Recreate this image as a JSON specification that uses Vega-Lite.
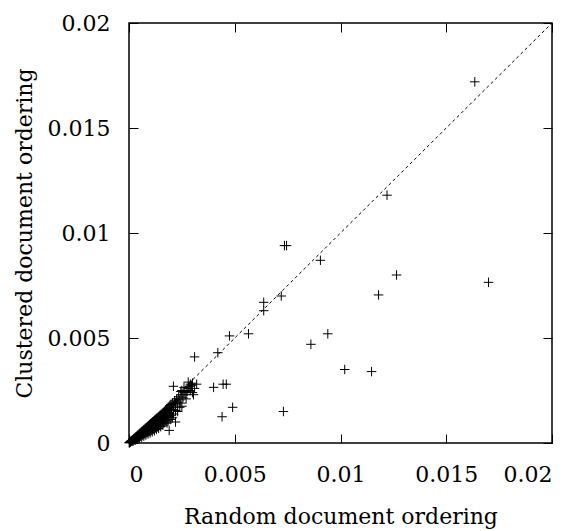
{
  "$schema": "https://vega.github.io/schema/vega-lite/v6.json",
  "width": 423,
  "height": 420,
  "autosize": "none",
  "padding": {"left": 129, "top": 23, "right": 28, "bottom": 88},
  "background": "white",
  "config": {
    "view": {"stroke": "black", "strokeWidth": 1.5},
    "font": "DejaVu Serif",
    "axis": {
      "domain": false,
      "grid": false,
      "ticks": true,
      "tickSize": -9,
      "tickWidth": 1,
      "tickColor": "black",
      "labelColor": "black",
      "titleFontWeight": "normal",
      "titleColor": "black"
    }
  },
  "datasets": {
    "diag": [{"random": 0, "clustered": 0}, {"random": 0.02, "clustered": 0.02}],
    "pts": [
      {"random": 0.00001, "clustered": 0.00001},
      {"random": 0.00002, "clustered": 0.00002},
      {"random": 0.00003, "clustered": 0.00002},
      {"random": 0.00005, "clustered": 0.00004},
      {"random": 0.00006, "clustered": 0.00005},
      {"random": 0.00008, "clustered": 0.00007},
      {"random": 0.0001, "clustered": 0.00008},
      {"random": 0.0001, "clustered": 0.00009},
      {"random": 0.00012, "clustered": 0.00011},
      {"random": 0.00015, "clustered": 0.00012},
      {"random": 0.00015, "clustered": 0.00009},
      {"random": 0.00017, "clustered": 0.00015},
      {"random": 0.0002, "clustered": 0.00016},
      {"random": 0.0002, "clustered": 0.00018},
      {"random": 0.0002, "clustered": 0.0001},
      {"random": 0.00022, "clustered": 0.0002},
      {"random": 0.00025, "clustered": 0.00019},
      {"random": 0.00025, "clustered": 0.00015},
      {"random": 0.00027, "clustered": 0.00024},
      {"random": 0.0003, "clustered": 0.00023},
      {"random": 0.0003, "clustered": 0.00026},
      {"random": 0.0003, "clustered": 0.0002},
      {"random": 0.0003, "clustered": 0.00014},
      {"random": 0.00032, "clustered": 0.00028},
      {"random": 0.00035, "clustered": 0.00027},
      {"random": 0.00035, "clustered": 0.00021},
      {"random": 0.00037, "clustered": 0.00033},
      {"random": 0.0004, "clustered": 0.0003},
      {"random": 0.0004, "clustered": 0.00035},
      {"random": 0.0004, "clustered": 0.00019},
      {"random": 0.00042, "clustered": 0.00037},
      {"random": 0.00045, "clustered": 0.00033},
      {"random": 0.00045, "clustered": 0.00026},
      {"random": 0.00047, "clustered": 0.00042},
      {"random": 0.0005, "clustered": 0.00036},
      {"random": 0.0005, "clustered": 0.00043},
      {"random": 0.0005, "clustered": 0.00033},
      {"random": 0.0005, "clustered": 0.00024},
      {"random": 0.00052, "clustered": 0.00047},
      {"random": 0.00055, "clustered": 0.0004},
      {"random": 0.00055, "clustered": 0.00032},
      {"random": 0.00057, "clustered": 0.0005},
      {"random": 0.0006, "clustered": 0.00043},
      {"random": 0.0006, "clustered": 0.00052},
      {"random": 0.0006, "clustered": 0.00028},
      {"random": 0.00062, "clustered": 0.00056},
      {"random": 0.00065, "clustered": 0.00047},
      {"random": 0.00065, "clustered": 0.00038},
      {"random": 0.00067, "clustered": 0.0006},
      {"random": 0.0007, "clustered": 0.0005},
      {"random": 0.0007, "clustered": 0.0006},
      {"random": 0.0007, "clustered": 0.00046},
      {"random": 0.0007, "clustered": 0.00033},
      {"random": 0.00072, "clustered": 0.00065},
      {"random": 0.00075, "clustered": 0.00054},
      {"random": 0.00075, "clustered": 0.00044},
      {"random": 0.00077, "clustered": 0.0007},
      {"random": 0.0008, "clustered": 0.00058},
      {"random": 0.0008, "clustered": 0.00068},
      {"random": 0.0008, "clustered": 0.00038},
      {"random": 0.00082, "clustered": 0.00074},
      {"random": 0.00085, "clustered": 0.0006},
      {"random": 0.00085, "clustered": 0.0005},
      {"random": 0.00087, "clustered": 0.00079},
      {"random": 0.0009, "clustered": 0.00064},
      {"random": 0.0009, "clustered": 0.00077},
      {"random": 0.0009, "clustered": 0.00058},
      {"random": 0.0009, "clustered": 0.00043},
      {"random": 0.00092, "clustered": 0.00083},
      {"random": 0.00095, "clustered": 0.00068},
      {"random": 0.00095, "clustered": 0.00055},
      {"random": 0.00097, "clustered": 0.00088},
      {"random": 0.001, "clustered": 0.00072},
      {"random": 0.001, "clustered": 0.00085},
      {"random": 0.001, "clustered": 0.00048},
      {"random": 0.00102, "clustered": 0.00092},
      {"random": 0.00105, "clustered": 0.00075},
      {"random": 0.00105, "clustered": 0.0006},
      {"random": 0.00107, "clustered": 0.00096},
      {"random": 0.0011, "clustered": 0.00078},
      {"random": 0.0011, "clustered": 0.00093},
      {"random": 0.0011, "clustered": 0.00072},
      {"random": 0.0011, "clustered": 0.00053},
      {"random": 0.00112, "clustered": 0.00101},
      {"random": 0.00115, "clustered": 0.00082},
      {"random": 0.00115, "clustered": 0.00066},
      {"random": 0.00117, "clustered": 0.00105},
      {"random": 0.0012, "clustered": 0.00085},
      {"random": 0.0012, "clustered": 0.00102},
      {"random": 0.0012, "clustered": 0.00058},
      {"random": 0.00122, "clustered": 0.0011},
      {"random": 0.00125, "clustered": 0.00088},
      {"random": 0.00125, "clustered": 0.00072},
      {"random": 0.00127, "clustered": 0.00114},
      {"random": 0.0013, "clustered": 0.00092},
      {"random": 0.0013, "clustered": 0.0011},
      {"random": 0.0013, "clustered": 0.00085},
      {"random": 0.0013, "clustered": 0.00065},
      {"random": 0.00132, "clustered": 0.00119},
      {"random": 0.00135, "clustered": 0.00095},
      {"random": 0.00135, "clustered": 0.00078},
      {"random": 0.00137, "clustered": 0.00123},
      {"random": 0.0014, "clustered": 0.00098},
      {"random": 0.0014, "clustered": 0.00119},
      {"random": 0.0014, "clustered": 0.0007},
      {"random": 0.00142, "clustered": 0.00127},
      {"random": 0.00145, "clustered": 0.00102},
      {"random": 0.00145, "clustered": 0.00084},
      {"random": 0.00147, "clustered": 0.00132},
      {"random": 0.0015, "clustered": 0.00106},
      {"random": 0.0015, "clustered": 0.00127},
      {"random": 0.0015, "clustered": 0.00095},
      {"random": 0.0015, "clustered": 0.00078},
      {"random": 0.00152, "clustered": 0.00136},
      {"random": 0.00155, "clustered": 0.0011},
      {"random": 0.00155, "clustered": 0.0009},
      {"random": 0.00157, "clustered": 0.00141},
      {"random": 0.0016, "clustered": 0.00113},
      {"random": 0.0016, "clustered": 0.00136},
      {"random": 0.0016, "clustered": 0.001},
      {"random": 0.0016, "clustered": 0.00085},
      {"random": 0.00162, "clustered": 0.00145},
      {"random": 0.00165, "clustered": 0.00118},
      {"random": 0.00165, "clustered": 0.00095},
      {"random": 0.00167, "clustered": 0.0015},
      {"random": 0.0017, "clustered": 0.00122},
      {"random": 0.0017, "clustered": 0.00144},
      {"random": 0.0017, "clustered": 0.0011},
      {"random": 0.00172, "clustered": 0.00155},
      {"random": 0.00175, "clustered": 0.00125},
      {"random": 0.00175, "clustered": 0.001},
      {"random": 0.00178, "clustered": 0.0016},
      {"random": 0.0018, "clustered": 0.0013},
      {"random": 0.0018, "clustered": 0.00152},
      {"random": 0.0018, "clustered": 0.00095},
      {"random": 0.00183, "clustered": 0.00165},
      {"random": 0.00185, "clustered": 0.0014},
      {"random": 0.00185, "clustered": 0.00105},
      {"random": 0.00188, "clustered": 0.0017},
      {"random": 0.0019, "clustered": 0.00145},
      {"random": 0.0019, "clustered": 0.0016},
      {"random": 0.0019, "clustered": 0.00125},
      {"random": 0.00193, "clustered": 0.00178},
      {"random": 0.00195, "clustered": 0.00155},
      {"random": 0.00195, "clustered": 0.00112},
      {"random": 0.00198, "clustered": 0.00184},
      {"random": 0.002, "clustered": 0.00162},
      {"random": 0.002, "clustered": 0.0017},
      {"random": 0.002, "clustered": 0.0013},
      {"random": 0.00205, "clustered": 0.0019},
      {"random": 0.00205, "clustered": 0.0012},
      {"random": 0.0021, "clustered": 0.00172},
      {"random": 0.0021, "clustered": 0.0018},
      {"random": 0.0021, "clustered": 0.00138},
      {"random": 0.00215, "clustered": 0.002},
      {"random": 0.0022, "clustered": 0.00185},
      {"random": 0.0022, "clustered": 0.0019},
      {"random": 0.0022, "clustered": 0.00155},
      {"random": 0.00225, "clustered": 0.0021},
      {"random": 0.0023, "clustered": 0.00195},
      {"random": 0.0023, "clustered": 0.0015},
      {"random": 0.00235, "clustered": 0.0022},
      {"random": 0.0024, "clustered": 0.00205},
      {"random": 0.00245, "clustered": 0.0019},
      {"random": 0.00245, "clustered": 0.00245},
      {"random": 0.0025, "clustered": 0.0023},
      {"random": 0.0025, "clustered": 0.00175},
      {"random": 0.00255, "clustered": 0.00215},
      {"random": 0.0026, "clustered": 0.0024},
      {"random": 0.0026, "clustered": 0.00265},
      {"random": 0.00265, "clustered": 0.0023},
      {"random": 0.0027, "clustered": 0.0025},
      {"random": 0.0027, "clustered": 0.0021},
      {"random": 0.00275, "clustered": 0.00245},
      {"random": 0.0028, "clustered": 0.0026},
      {"random": 0.00285, "clustered": 0.0027},
      {"random": 0.0029, "clustered": 0.0025},
      {"random": 0.0029, "clustered": 0.0028},
      {"random": 0.00295, "clustered": 0.00275},
      {"random": 0.003, "clustered": 0.00285},
      {"random": 0.0031, "clustered": 0.0026},
      {"random": 0.0031, "clustered": 0.0041},
      {"random": 0.0032, "clustered": 0.0028},
      {"random": 0.0028, "clustered": 0.0029},
      {"random": 0.0021, "clustered": 0.0027},
      {"random": 0.0025, "clustered": 0.0025},
      {"random": 0.003, "clustered": 0.0024},
      {"random": 0.0024, "clustered": 0.0017},
      {"random": 0.0021, "clustered": 0.0016},
      {"random": 0.0022, "clustered": 0.001},
      {"random": 0.0019, "clustered": 0.0006},
      {"random": 0.00305, "clustered": 0.0023},
      {"random": 0.0042, "clustered": 0.0043},
      {"random": 0.004, "clustered": 0.00265},
      {"random": 0.00445, "clustered": 0.0028},
      {"random": 0.0046, "clustered": 0.0028},
      {"random": 0.0049, "clustered": 0.0017},
      {"random": 0.0044, "clustered": 0.00125},
      {"random": 0.00475, "clustered": 0.0051},
      {"random": 0.00565, "clustered": 0.0052},
      {"random": 0.00637, "clustered": 0.0063},
      {"random": 0.00637, "clustered": 0.0067},
      {"random": 0.0072, "clustered": 0.007},
      {"random": 0.0073, "clustered": 0.0015},
      {"random": 0.0086, "clustered": 0.0047},
      {"random": 0.0094, "clustered": 0.0052},
      {"random": 0.00905, "clustered": 0.0087},
      {"random": 0.00735, "clustered": 0.0094},
      {"random": 0.00745, "clustered": 0.0094},
      {"random": 0.0102, "clustered": 0.0035},
      {"random": 0.01147, "clustered": 0.0034},
      {"random": 0.0118, "clustered": 0.00705},
      {"random": 0.01265, "clustered": 0.008},
      {"random": 0.0122, "clustered": 0.0118},
      {"random": 0.01635, "clustered": 0.0172},
      {"random": 0.017, "clustered": 0.00765}
    ]
  },
  "layer": [
    {
      "data": {"name": "diag"},
      "mark": {"type": "line", "color": "black", "strokeWidth": 1, "strokeDash": [3, 3]},
      "encoding": {
        "x": {"field": "random", "type": "quantitative", "scale": {"domain": [0, 0.02], "nice": false},
          "axis": {"orient": "bottom", "title": "Random document ordering", "values": [0, 0.005, 0.01, 0.015, 0.02], "format": "~g", "labelPadding": 30, "titlePadding": 21,
            "labelFont": "DejaVu Serif", "labelFontSize": 22, "titleFont": "DejaVu Serif", "titleFontSize": 22}},
        "y": {"field": "clustered", "type": "quantitative", "scale": {"domain": [0, 0.02], "nice": false},
          "axis": {"orient": "left", "title": "Clustered document ordering", "values": [0, 0.005, 0.01, 0.015, 0.02], "format": "~g", "labelPadding": 28, "titlePadding": 11,
            "labelFont": "DejaVu Serif", "labelFontSize": 22, "titleFont": "DejaVu Serif", "titleFontSize": 22}}
      }
    },
    {
      "data": {"name": "pts"},
      "mark": {"type": "point", "shape": "M-1,0L1,0M0,-1L0,1", "size": 90, "filled": false, "stroke": "black", "strokeWidth": 1, "opacity": 1},
      "encoding": {
        "x": {"field": "random", "type": "quantitative",
          "axis": {"orient": "top", "title": null, "labels": false, "values": [0, 0.005, 0.01, 0.015, 0.02]}},
        "y": {"field": "clustered", "type": "quantitative",
          "axis": {"orient": "right", "title": null, "labels": false, "values": [0, 0.005, 0.01, 0.015, 0.02]}}
      }
    }
  ],
  "resolve": {"axis": {"x": "independent", "y": "independent"}}
}
